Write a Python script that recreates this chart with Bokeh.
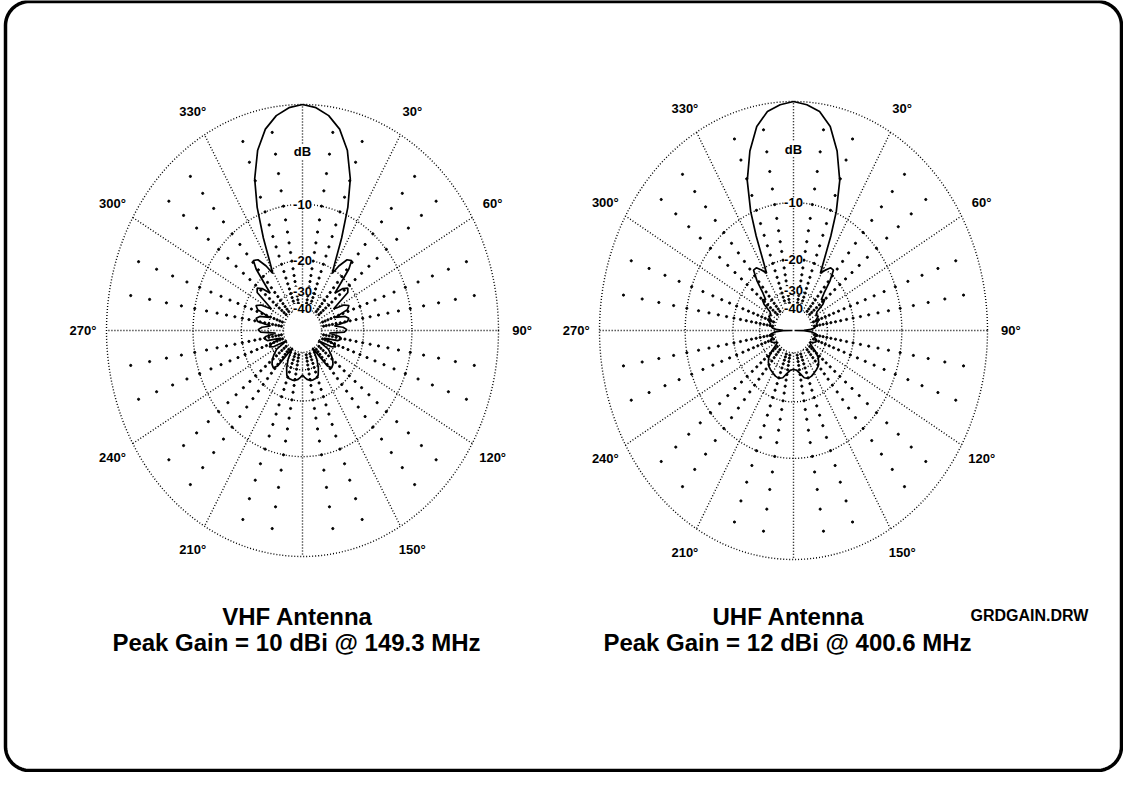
import numpy as np
from bokeh.plotting import figure
from bokeh.models import Range1d
from bokeh.core.properties import value
from bokeh.embed import file_html
from bokeh.resources import INLINE

# ---------------- data ----------------
ring_levels_db = [0, -10, -20, -30, -40]
scale_label_text = ["dB", "-10", "-20", "-30", "-40"]
scale_label_db = [-4, -10, -20, -30, -40]
spoke_major_deg = [0, 30, 60, 90, 120, 150, 180, 210, 240, 270, 300, 330]
spoke_minor_deg = [10, 20, 40, 50, 70, 80, 100, 110, 130, 140, 160, 170,
                   190, 200, 220, 230, 250, 260, 280, 290, 310, 320, 340, 350]
minor_dot_db = [-2, -4, -6, -8, -10, -12, -14, -16, -18, -20,
                -22, -24, -26, -28, -30, -32, -34, -36, -38]
bearing_label_deg = [30, 60, 90, 120, 150, 210, 240, 270, 300, 330]
bearing_label_text = ["30°", "60°", "90°", "120°", "150°",
                      "210°", "240°", "270°", "300°", "330°"]

vhf_angle = [0, 4, 8, 12, 16, 20, 23, 26, 29, 31, 33, 36, 39, 41, 43, 45, 48, 51, 54, 57,
             59, 62, 65, 68, 71, 74, 77, 80, 83, 86, 89, 92, 95, 98, 101, 104, 107, 110,
             113, 116, 119, 122, 126, 130, 134, 138, 141, 143, 146, 150, 154, 158, 162,
             166, 170, 174, 177, 180,
             183, 186, 190, 194, 198, 202, 206, 210, 214, 217, 219, 222, 226, 230, 234,
             238, 241, 244, 247, 250, 253, 256, 259, 262, 265, 268, 271, 274, 277, 280,
             283, 286, 289, 292, 295, 298, 301, 303, 306, 309, 312, 315, 317, 319, 321,
             324, 327, 329, 331, 334, 337, 340, 344, 348, 352, 356, 360]
vhf_db = [0, -0.2, -0.7, -1.6, -3.2, -5.8, -9.0, -13.5, -18.5, -21.0, -18.5, -16.3, -15.8,
          -17.5, -21.5, -25.0, -22.0, -20.8, -21.5, -26.5, -29.0, -24.5, -23.0, -24.0, -29.5,
          -25.5, -24.3, -25.0, -31.0, -27.0, -25.5, -26.5, -34.0, -28.5, -27.5, -29.0, -37.0,
          -31.0, -29.0, -31.0, -41.0, -32.0, -29.5, -27.5, -26.3, -25.8, -27.5, -33.5, -41.0,
          -33.0, -29.0, -26.5, -25.8, -25.6, -25.6, -26.2, -27.0, -27.8,
          -27.0, -26.2, -25.6, -25.6, -25.7, -26.5, -29.0, -33.0, -41.0, -33.5, -27.5, -25.8,
          -26.3, -27.5, -29.5, -32.0, -41.0, -31.0, -29.0, -31.0, -37.0, -29.0, -28.0, -28.5,
          -34.0, -26.5, -25.5, -27.0, -31.0, -25.0, -24.3, -25.5, -29.5, -24.0, -23.0, -24.5,
          -29.0, -26.5, -21.5, -20.8, -22.0, -25.0, -21.5, -17.5, -15.8, -16.3, -18.5, -21.0,
          -18.5, -13.5, -9.0, -5.8, -3.2, -1.6, -0.7, -0.2, 0]

uhf_angle = [0, 4, 8, 12, 16, 20, 23, 25, 27, 29, 32, 35, 38, 41, 44, 47, 50, 53, 56, 60,
             64, 68, 72, 76, 80, 84, 87, 89, 90, 91, 93, 97, 101, 105, 109, 113, 117, 121,
             125, 129, 133, 137, 141, 145, 150, 155, 160, 165, 170, 175, 180,
             185, 190, 195, 200, 205, 210, 215, 219, 223, 227, 231, 235, 239, 243, 247, 251,
             255, 259, 263, 267, 269, 270, 271, 273, 276, 280, 284, 288, 292, 296, 300, 304,
             307, 310, 313, 316, 319, 322, 325, 328, 331, 333, 335, 337, 340, 344, 348, 352,
             356, 360]
uhf_db = [0, -0.2, -0.6, -1.6, -3.5, -6.2, -9.8, -13.5, -18.0, -21.5, -20.0, -18.8, -18.8,
          -21.5, -25.5, -28.0, -26.8, -28.5, -33.0, -34.5, -33.5, -35.5, -34.5, -36.0, -36.5,
          -38.0, -41.0, -50.0, -90.0, -50.0, -42.0, -37.0, -36.0, -37.5, -36.0, -35.5, -37.0,
          -40.0, -38.0, -33.0, -30.0, -28.5, -27.5, -27.0, -26.5, -26.0, -25.8, -26.5, -28.5,
          -30.0, -30.5,
          -30.0, -28.5, -26.5, -25.8, -26.0, -26.5, -27.0, -27.5, -28.5, -30.0, -33.0, -38.0,
          -40.0, -37.0, -35.5, -36.0, -37.5, -36.0, -37.0, -42.0, -50.0, -90.0, -50.0, -41.0,
          -38.0, -36.5, -36.0, -34.5, -35.5, -33.5, -34.5, -33.0, -28.5, -26.8, -28.0, -25.5,
          -21.5, -18.8, -18.8, -20.0, -21.5, -18.0, -13.5, -9.8, -6.2, -3.5, -1.6, -0.6,
          -0.2, 0]

caption_title = ["VHF Antenna", "UHF Antenna"]
caption_gain = ["Peak Gain = 10 dBi @ 149.3 MHz", "Peak Gain = 12 dBi @ 400.6 MHz"]
drawing_name = "GRDGAIN.DRW"

# ---------------- layout ----------------
charts = [
    dict(cx=310, cy=338, rx=196, ry=226, angle=vhf_angle, db=vhf_db),
    dict(cx=801, cy=338, rx=194, ry=229, angle=uhf_angle, db=uhf_db),
]
LABEL_R = 1.12
FONT = value("Liberation Sans")


def arrl_r(db):
    return 0.89 ** (-np.asarray(db, dtype=float) / 2.0)


def polar_xy(ch, deg, r):
    th = np.radians(np.asarray(deg, dtype=float))
    r = np.asarray(r, dtype=float)
    return ch["cx"] + ch["rx"] * r * np.sin(th), ch["cy"] - ch["ry"] * r * np.cos(th)


p = figure(width=1123, height=772, x_range=Range1d(8, 1131), y_range=Range1d(780, 8),
           output_backend="svg", toolbar_location=None, min_border=0)
p.axis.visible = False
p.grid.visible = False
p.outline_line_color = None
p.background_fill_color = "white"

# rounded frame
x0, y0, x1, y1, rad = 13, 9, 1129, 778, 24
t = np.linspace(0, np.pi / 2, 20)
bx = np.concatenate([x1 - rad + rad * np.sin(t), x1 - rad + rad * np.cos(t),
                     x0 + rad - rad * np.sin(t), x0 + rad - rad * np.cos(t), [x1 - rad]])
by = np.concatenate([y0 + rad - rad * np.cos(t), y1 - rad + rad * np.sin(t),
                     y1 - rad + rad * np.cos(t), y0 + rad - rad * np.sin(t), [y0]])
p.line(bx, by, line_color="black", line_width=3.5)

for ch in charts:
    # rings
    for lvl in ring_levels_db:
        r = float(arrl_r(lvl))
        p.ellipse(x=ch["cx"], y=ch["cy"], width=2 * ch["rx"] * r, height=2 * ch["ry"] * r,
                  fill_color=None, line_color="black", line_width=1.4, line_dash="1 2")
    # major spokes
    r_in, r_out = float(arrl_r(-40)), 1.0
    xs, ys = [], []
    for a in spoke_major_deg:
        sx, sy = polar_xy(ch, [a, a], [r_in, r_out])
        xs.append(list(sx))
        ys.append(list(sy))
    p.multi_line(xs, ys, line_color="black", line_width=1.4, line_dash="1 2")
    # minor spoke dots
    aa, dd = np.meshgrid(spoke_minor_deg, minor_dot_db)
    dx, dy = polar_xy(ch, aa.ravel(), arrl_r(dd.ravel()))
    p.scatter(dx, dy, size=2.2, color="black", marker="circle")
    # scale labels
    lx, ly = polar_xy(ch, [0] * len(scale_label_db), arrl_r(scale_label_db))
    p.text(lx, ly, text=scale_label_text, text_align="center", text_baseline="middle",
           text_font=FONT, text_font_style="bold", text_font_size="13px",
           background_fill_color="white")
    # bearing labels
    bx_, by_ = polar_xy(ch, bearing_label_deg, [LABEL_R] * len(bearing_label_deg))
    p.text(bx_, by_, text=bearing_label_text, text_align="center", text_baseline="middle",
           text_font=FONT, text_font_style="bold", text_font_size="13px")
    # pattern
    px, py = polar_xy(ch, ch["angle"], arrl_r(ch["db"]))
    p.line(px, py, line_color="black", line_width=1.7)

# captions
p.text([305, 796], [624, 624], text=caption_title, text_align="center",
       text_baseline="alphabetic", text_font=FONT, text_font_style="bold",
       text_font_size="24px")
p.text([304, 795], [650, 650], text=caption_gain, text_align="center",
       text_baseline="alphabetic", text_font=FONT, text_font_style="bold",
       text_font_size="24px")
p.text([1037], [623], text=[drawing_name], text_align="center", text_baseline="alphabetic",
       text_font=FONT, text_font_style="bold", text_font_size="16px")

open("out.html", "w").write(file_html(p, INLINE))
